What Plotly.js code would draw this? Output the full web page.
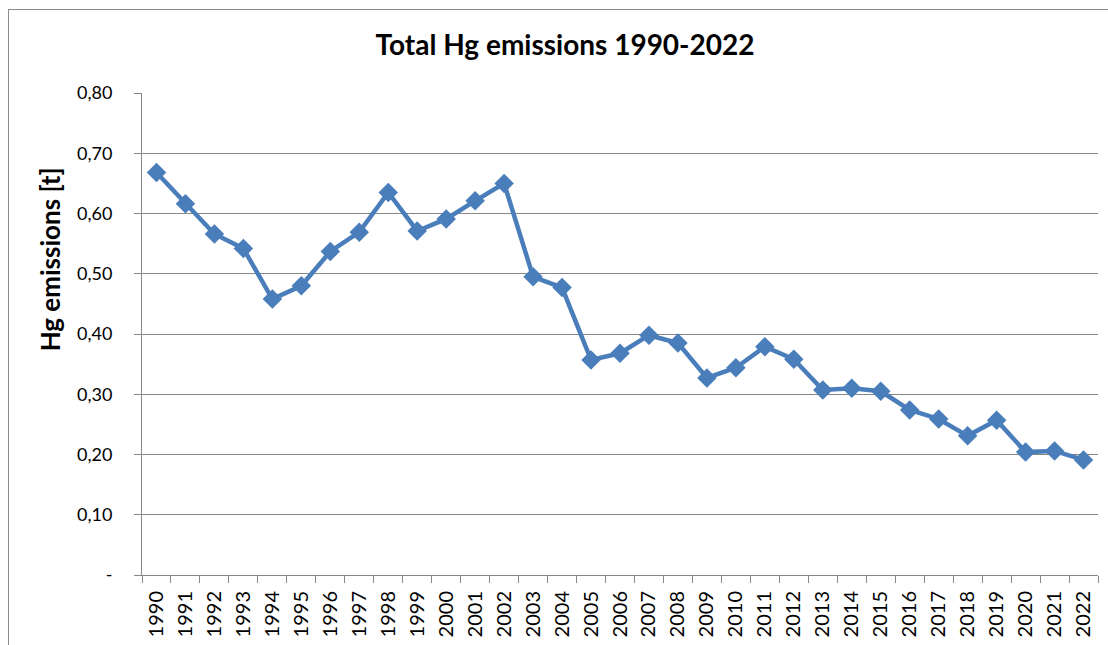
<!DOCTYPE html>
<html>
<head>
<meta charset="utf-8">
<script src="https://cdn.plot.ly/plotly-3.0.1.min.js"></script>
<style>
html,body{margin:0;padding:0;background:#fff;overflow:hidden;}
#frame{position:absolute;left:8px;top:9px;width:1300px;height:800px;border:1px solid #8c8c8c;box-sizing:border-box;}
#chart{position:absolute;left:0;top:0;width:1108px;height:645px;}
</style>
</head>
<body>
<div id="frame"></div>
<div id="chart"></div>
<script>
const years = ["1990","1991","1992","1993","1994","1995","1996","1997","1998","1999","2000","2001","2002","2003","2004","2005","2006","2007","2008","2009","2010","2011","2012","2013","2014","2015","2016","2017","2018","2019","2020","2021","2022"];
const hgEmissions = [0.668,0.616,0.566,0.542,0.458,0.480,0.537,0.569,0.635,0.571,0.591,0.621,0.650,0.495,0.477,0.357,0.368,0.398,0.385,0.327,0.344,0.379,0.358,0.307,0.310,0.305,0.274,0.259,0.231,0.257,0.204,0.206,0.191];
const yTickVals = [0,0.1,0.2,0.3,0.4,0.5,0.6,0.7,0.8];
const yTickText = ["-","0,10","0,20","0,30","0,40","0,50","0,60","0,70","0,80"];

const font = "Lato, 'Open Sans', sans-serif";
const trace = {
  x: years, y: hgEmissions, type: 'scatter', mode: 'lines+markers',
  line: {color: '#4a7ebb', width: 4.5},
  marker: {symbol: 'diamond', size: 15, color: '#4a7ebb'},
  hoverinfo: 'x+y'
};
const layout = {
  width: 1108, height: 645,
  margin: {l: 142, r: 10, t: 93, b: 70, pad: 0},
  paper_bgcolor: 'rgba(0,0,0,0)', plot_bgcolor: 'rgba(0,0,0,0)',
  showlegend: false,
  font: {family: font, color: '#000'},
  title: {text: '<b>Total Hg emissions 1990-2022</b>', font: {family: font, size: 28, color: '#000'}, x: 0.51, xanchor: 'center', y: 0.93, yanchor: 'middle'},
  xaxis: {
    type: 'category', range: [-0.5, 32.5], tickson: 'boundaries',
    ticks: 'outside', ticklen: 7, tickcolor: '#868686', tickwidth: 1,
    showline: true, linecolor: '#868686', linewidth: 1,
    showgrid: false, tickangle: -90, tickfont: {family: font, size: 20, color: '#000'},
    ticklabelstandoff: 7,
    fixedrange: true
  },
  yaxis: {
    range: [0, 0.8], tickvals: yTickVals, ticktext: yTickText,
    ticks: 'outside', ticklen: 7, tickcolor: '#868686', tickwidth: 1,
    showline: true, linecolor: '#868686', linewidth: 1,
    showgrid: true, gridcolor: '#868686', gridwidth: 1, zeroline: false,
    tickfont: {family: font, size: 18, color: '#000'}, ticklabelstandoff: 18,
    fixedrange: true
  },
  annotations: [{
    text: '<b>Hg emissions [t]</b>', textangle: -90, showarrow: false,
    xref: 'paper', yref: 'paper', x: -0.0962, y: 0.655, xanchor: 'center', yanchor: 'middle',
    font: {family: font, size: 26, color: '#000'}
  }]
};
Plotly.newPlot('chart', [trace], layout, {displayModeBar: false, staticPlot: true});
</script>
</body>
</html>
